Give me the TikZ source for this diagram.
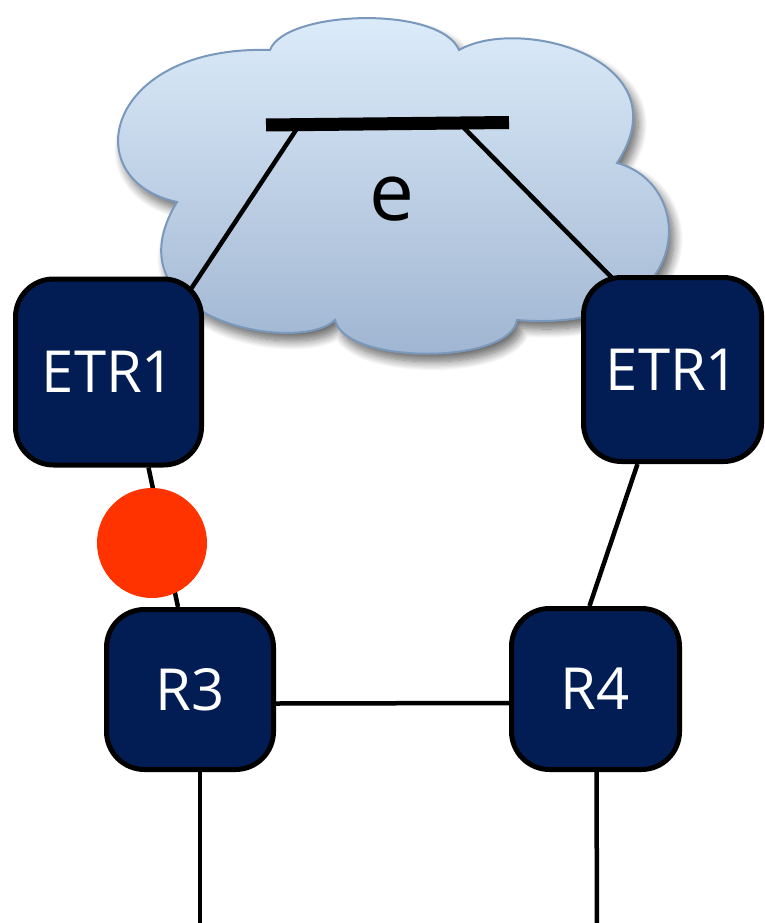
\documentclass[tikz,border=0pt]{standalone}
\usepackage{fontspec}
\setmainfont{Open Sans}
\usetikzlibrary{shadows.blur}
\definecolor{navy}{RGB}{1,29,83}
\definecolor{cloudtop}{RGB}{222,237,251}
\definecolor{cloudbot}{RGB}{158,180,208}
\definecolor{cloudedge}{RGB}{122,152,188}
\definecolor{faultred}{RGB}{255,51,0}
\pgfdeclarelayer{bg}
\pgfdeclarelayer{mid}
\pgfsetlayers{bg,mid,main}
\tikzset{
  router/.style={draw=black, line width=5pt, fill=navy, rounded corners=38pt,
    text=white, inner sep=0pt, font=\fontsize{58}{60}\selectfont},
  link/.style={draw=black, line width=4.5pt},
  fault/.style={circle, fill=faultred, minimum size=110pt, inner sep=0pt},
}
\begin{document}
\begin{tikzpicture}[x=1pt,y=-1pt]
\useasboundingbox (0,0) rectangle (765,923);

% cloud
\begin{pgfonlayer}{bg}
\path[blur shadow={shadow xshift=5pt, shadow yshift=-8pt, shadow blur radius=9pt, shadow blur steps=12, shadow opacity=60},
      top color=cloudtop, bottom color=cloudbot, draw=cloudedge, line width=2pt]
  (177,202) .. controls (75,180) and (105,45) .. (270,50)
  .. controls (285,10) and (440,5) .. (459,50)
  .. controls (520,15) and (685,60) .. (617,163)
  .. controls (700,185) and (695,335) .. (517,320)
  .. controls (510,365) and (345,365) .. (335,320)
  .. controls (300,355) and (105,320) .. cycle;
\end{pgfonlayer}

% nodes
\node[router, minimum width=186pt, minimum height=186pt] (etrl) at (108.5,372) {ETR1};
\node[router, minimum width=178pt, minimum height=184pt] (etrr) at (672.5,369.5) {ETR1};
\node[router, minimum width=167pt, minimum height=160pt] (r3) at (190,689.5) {R3};
\node[router, minimum width=168pt, minimum height=161pt] (r4) at (595.5,689) {R4};
\node[font=\fontsize{80}{80}\selectfont] (e) at (392,199) {e};

% bar in cloud
\coordinate (barl) at (266,125);
\coordinate (barr) at (509,122.5);
\coordinate (bl) at (298,127);
\coordinate (br) at (462,126);
\coordinate (r3end) at (200,930);
\coordinate (r4end) at (597,930);

\begin{pgfonlayer}{mid}
\draw[link] (bl) -- ([xshift=-18pt,yshift=-20pt]etrl.north east);
\draw[link] (br) -- ([xshift=45pt,yshift=-17pt]etrr.north west);
\draw[link] ([xshift=40pt]etrl.south) -- ([xshift=-12pt]r3.north);
\draw[link] ([xshift=-35pt]etrr.south) -- ([xshift=-6pt]r4.north);
\draw[link] ([yshift=-14pt]r3.east) -- ([yshift=-14pt]r4.west);
\draw[link] ([xshift=10pt]r3.south) -- (r3end);
\draw[link] ([xshift=1pt]r4.south) -- (r4end);
\end{pgfonlayer}

\draw[line width=13pt] (barl) -- (barr);

\node[fault] (x) at (152,543) {};
\end{tikzpicture}
\end{document}
